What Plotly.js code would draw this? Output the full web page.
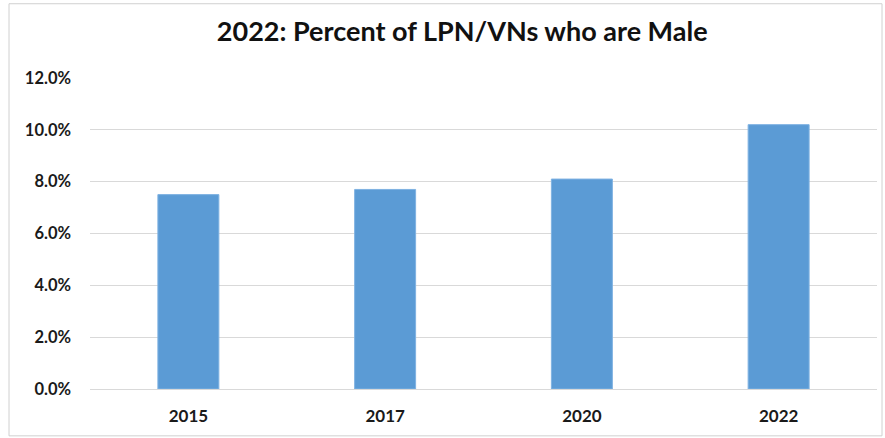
<!DOCTYPE html>
<html>
<head>
<meta charset="utf-8">
<script src="https://cdn.plot.ly/plotly-3.0.1.min.js"></script>
<style>
html,body{margin:0;padding:0;background:#fff;}
#chart{width:885px;height:438px;}
</style>
</head>
<body>
<div id="chart"></div>
<script>
const years = ["2015", "2017", "2020", "2022"];
const percentMale = [0.075, 0.077, 0.081, 0.102];
const yTickValues = [0, 0.02, 0.04, 0.06, 0.08, 0.10, 0.12];
const chartTitle = "2022: Percent of LPN/VNs who are Male";

const trace = {
  type: "bar",
  x: years,
  y: percentMale,
  marker: {color: "#5B9BD5", line: {color: "#7FB2E2", width: 1}},
  hoverinfo: "x+y"
};

const layout = {
  width: 885,
  height: 438,
  margin: {l: 90, r: 8, t: 77.5, b: 48.5},
  paper_bgcolor: "#ffffff",
  plot_bgcolor: "#ffffff",
  bargap: 0.69,
  showlegend: false,
  font: {family: "Lato, 'Open Sans', sans-serif", color: "#1a1a1a"},
  title: {
    text: "<b>" + chartTitle + "</b>",
    font: {family: "Lato, 'Open Sans', sans-serif", size: 27, color: "#111111"},
    x: 0.473, xref: "paper", xanchor: "center",
    y: 0.929, yref: "container", yanchor: "middle"
  },
  xaxis: {
    type: "category",
    showgrid: false,
    showline: false,
    ticks: "",
    tickfont: {size: 17, color: "#1a1a1a", weight: "bold"},
    ticklabelstandoff: 15
  },
  yaxis: {
    range: [0, 0.12],
    tickvals: yTickValues,
    tickformat: ".1%",
    showgrid: true,
    gridcolor: "#D9D9D9",
    gridwidth: 1,
    zeroline: true,
    zerolinecolor: "#D9D9D9",
    zerolinewidth: 1,
    showline: false,
    ticks: "",
    tickfont: {size: 16.5, color: "#1a1a1a", weight: "bold"},
    ticklabelstandoff: 18
  },
  shapes: [{
    type: "rect",
    xref: "paper", yref: "paper",
    x0: (9 - 90) / 787, x1: (882 - 90) / 787,
    y0: (389.5 - 436.5) / 312, y1: (389.5 - 3) / 312,
    line: {color: "#D0D0D0", width: 1},
    fillcolor: "rgba(0,0,0,0)",
    layer: "below"
  }]
};

Plotly.newPlot("chart", [trace], layout, {displayModeBar: false, staticPlot: true});
</script>
</body>
</html>
